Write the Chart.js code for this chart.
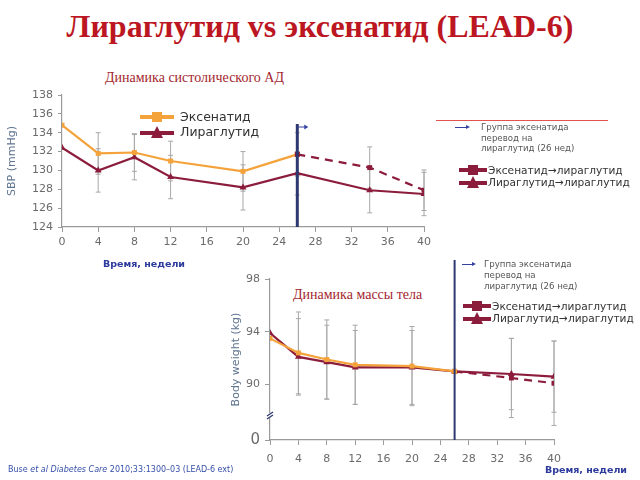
<!DOCTYPE html>
<html><head><meta charset="utf-8">
<script src="https://cdn.jsdelivr.net/npm/chart.js@4.4.1/dist/chart.umd.min.js"></script>
<style>
html,body{margin:0;padding:0;background:#fff;width:640px;height:480px;overflow:hidden;position:relative;font-family:"DejaVu Sans",sans-serif}
.t{position:absolute;white-space:nowrap}
canvas{position:absolute}
.lg{position:absolute;display:flex;align-items:center;white-space:nowrap}
.lg svg{display:block}
</style></head><body>
<div class="t" id="title" style="left:0;width:640px;text-align:center;top:8px;font:bold 32px 'Liberation Serif',serif;color:#BC1622">Лираглутид vs эксенатид (LEAD-6)</div>
<div class="t" style="left:105px;top:70px;font:14px 'Liberation Serif',serif;color:#A3262E">Динамика систолического АД</div>
<div class="t" style="left:293px;top:287px;font:14px 'Liberation Serif',serif;color:#A3262E">Динамика массы тела</div>

<canvas id="c1" width="440" height="185" style="left:0;top:80px"></canvas>
<canvas id="c2" width="380" height="222" style="left:200px;top:250px"></canvas>

<!-- top legend -->
<div class="lg" style="left:138px;top:109px;font-size:12.5px;color:#333">
<svg width="38" height="14"><line x1="2" y1="7" x2="36" y2="7" stroke="#F4A23A" stroke-width="4"/><rect x="14" y="2" width="10" height="10" fill="#F4A23A"/></svg><span style="margin-left:4px">Эксенатид</span></div>
<div class="lg" style="left:138px;top:124px;font-size:12.5px;color:#333">
<svg width="38" height="14"><line x1="2" y1="8" x2="36" y2="8" stroke="#8C1C3C" stroke-width="4"/><polygon points="19,1 25,13 13,13" fill="#8C1C3C"/></svg><span style="margin-left:4px">Лираглутид</span></div>

<!-- top right notes -->
<div class="t" style="left:436px;top:120px;width:172px;height:1px;background:#E2534F"></div>
<div class="t" style="left:455px;top:127px;width:13px;height:1px;background:#3341A0"></div>
<div class="t" style="left:466px;top:125px;width:0;height:0;border-left:4px solid #3341A0;border-top:2.5px solid transparent;border-bottom:2.5px solid transparent"></div>
<div class="t" style="left:481px;top:122px;font-size:8.6px;line-height:10.5px;color:#555">Группа эксенатида<br>перевод на<br>лираглутид (26 нед)</div>
<div class="lg" style="left:458px;top:163px;font-size:10.6px;color:#333">
<svg width="30" height="14"><line x1="1" y1="7" x2="29" y2="7" stroke="#8C1C3C" stroke-width="4"/><rect x="10" y="2" width="10" height="10" fill="#8C1C3C"/></svg><span>Эксенатид→лираглутид</span></div>
<div class="lg" style="left:458px;top:175px;font-size:10.6px;color:#333">
<svg width="30" height="14"><line x1="1" y1="8" x2="29" y2="8" stroke="#8C1C3C" stroke-width="4"/><polygon points="15,1 21,13 9,13" fill="#8C1C3C"/></svg><span>Лираглутид→лираглутид</span></div>

<!-- bottom right notes -->
<div class="t" style="left:462px;top:264px;width:12px;height:1px;background:#3341A0"></div>
<div class="t" style="left:472px;top:262px;width:0;height:0;border-left:4px solid #3341A0;border-top:2.5px solid transparent;border-bottom:2.5px solid transparent"></div>
<div class="t" style="left:484px;top:259px;font-size:8.6px;line-height:11px;color:#555">Группа эксенатида<br>перевод на<br>лираглутид (26 нед)</div>
<div class="lg" style="left:462px;top:299px;font-size:10.6px;color:#333">
<svg width="30" height="14"><line x1="1" y1="7" x2="29" y2="7" stroke="#8C1C3C" stroke-width="4"/><rect x="10" y="2" width="10" height="10" fill="#8C1C3C"/></svg><span>Эксенатид→лираглутид</span></div>
<div class="lg" style="left:462px;top:311px;font-size:10.6px;color:#333">
<svg width="30" height="14"><line x1="1" y1="8" x2="29" y2="8" stroke="#8C1C3C" stroke-width="4"/><polygon points="15,1 21,13 9,13" fill="#8C1C3C"/></svg><span>Лираглутид→лираглутид</span></div>

<div class="t" style="left:103px;top:258px;font:bold 9.5px 'DejaVu Sans',sans-serif;color:#2B3A9C">Время, недели</div>
<div class="t" style="left:545px;top:464px;font:bold 9.5px 'DejaVu Sans',sans-serif;color:#2B3A9C">Время, недели</div>
<div class="t" style="left:8px;top:465px;font-size:8px;color:#3550A8">Buse <i>et al</i> <i>Diabetes Care</i> 2010;33:1300–03 (LEAD-6 ext)</div>

<script>
// ---------- DATA ----------
const weeksMain = [0, 4, 8, 12, 20, 26];
const weeksAll = [0, 4, 8, 12, 20, 26, 34, 40];
const weeksSwitch = [26, 34, 40];
const switchWeek = 26;
const xTicks = [0, 4, 8, 12, 16, 20, 24, 28, 32, 36, 40];

// Systolic BP (mmHg)
const sbpExenatide = [134.8, 131.8, 131.9, 131.0, 129.9, 131.7];
const sbpExenatideErr = [null, 2.2, 2.0, 2.1, 2.1, 2.3];
const sbpLiraglutide = [132.4, 130.0, 131.4, 129.3, 128.2, 129.7, 127.9, 127.5];
const sbpLiraglutideErr = [null, 2.3, 2.4, 2.3, 2.4, 2.3, 2.4, 2.3];
const sbpSwitch = [131.7, 130.3, 127.9];
const sbpSwitchErr = [null, 2.2, 2.15];
const sbpTicks = [124, 126, 128, 130, 132, 134, 136, 138];

// Body weight (kg)
const bwExenatide = [93.5, 92.4, 91.9, 91.5, 91.4, 91.0];
const bwExenatideErr = [null, 3.1, 3.0, 3.0, 3.0, null];
const bwLiraglutide = [93.9, 92.1, 91.7, 91.3, 91.3, 91.0, 90.8, 90.6];
const bwLiraglutideErr = [null, 2.9, 2.8, 2.8, 2.8, null, 2.7, 2.7];
const bwSwitch = [91.0, 90.5, 90.1];
const bwSwitchErr = [null, 3.0, 3.2];
const bwTickValues = [85.8, 90, 94, 98];
const bwTickLabels = ['0', '90', '94', '98'];
const bwBreakValue = 87.7;

// ---------- STYLE ----------
const ORANGE = '#F4A23A', MAROON = '#8C1C3C', NAVY = '#2E3870', GRID = '#9a9a9a', TICK = '#6b6b6b';
const pts = (xs, ys) => xs.map((x, i) => ({x, y: ys[i]}));

const overlay = {
  id: 'overlay',
  beforeDatasetsDraw(chart) {
    const ctx = chart.ctx, xs = chart.scales.x, ys = chart.scales.y;
    ctx.save();
    ctx.strokeStyle = '#a8a8a8'; ctx.lineWidth = 1;
    chart.data.datasets.forEach(ds => {
      if (!ds.err) return;
      ds.data.forEach((p, j) => {
        const e = ds.err[j]; if (e == null) return;
        const x = xs.getPixelForValue(p.x), y1 = ys.getPixelForValue(p.y + e), y2 = ys.getPixelForValue(p.y - e);
        ctx.beginPath();
        ctx.moveTo(x, y1); ctx.lineTo(x, y2);
        ctx.moveTo(x - 2.5, y1); ctx.lineTo(x + 2.5, y1);
        ctx.moveTo(x - 2.5, y2); ctx.lineTo(x + 2.5, y2);
        ctx.stroke();
      });
    });
    ctx.restore();
  },
  afterDatasetsDraw(chart, args, opts) {
    const ctx = chart.ctx, xs = chart.scales.x, ys = chart.scales.y;
    ctx.save();
    const x = xs.getPixelForValue(opts.vx);
    ctx.strokeStyle = NAVY; ctx.lineWidth = opts.vw;
    ctx.beginPath(); ctx.moveTo(x, opts.vtop); ctx.lineTo(x, chart.chartArea.bottom); ctx.stroke();
    if (opts.arrow) {
      ctx.strokeStyle = '#3341A0'; ctx.fillStyle = '#3341A0'; ctx.lineWidth = 1;
      const ay = opts.vtop + 3;
      ctx.beginPath(); ctx.moveTo(x, ay); ctx.lineTo(x + 8, ay); ctx.stroke();
      ctx.beginPath(); ctx.moveTo(x + 11, ay); ctx.lineTo(x + 7, ay - 2.5); ctx.lineTo(x + 7, ay + 2.5); ctx.fill();
    }
    if (opts.breakAt != null) {
      const bx = chart.chartArea.left, by = ys.getPixelForValue(opts.breakAt);
      ctx.fillStyle = '#fff'; ctx.fillRect(bx - 3, by - 2, 6, 4);
      ctx.strokeStyle = NAVY; ctx.lineWidth = 1.3;
      ctx.beginPath();
      ctx.moveTo(bx - 3, by + 1); ctx.lineTo(bx + 3, by - 3);
      ctx.moveTo(bx - 3, by + 4); ctx.lineTo(bx + 3, by);
      ctx.stroke();
    }
    ctx.restore();
  }
};

function lineDs(label, data, err, color, style, dashed, z) {
  return {label, data, err, borderColor: color, backgroundColor: color, borderWidth: 2.2,
    pointStyle: style, pointRadius: style === 'triangle' ? 4 : 3.5, pointBorderWidth: 0,
    borderDash: dashed ? [8, 6] : [], tension: 0, order: z};
}

function xScale(pad) {
  return {type: 'linear', min: 0, max: 40,
    afterBuildTicks: a => { a.ticks = xTicks.map(v => ({value: v})); },
    ticks: {color: TICK, font: {family: 'DejaVu Sans', size: 11}, padding: pad, maxRotation: 0},
    grid: {drawOnChartArea: false, drawTicks: true, tickLength: 5, color: GRID},
    border: {color: GRID, width: 1.2}};
}

Chart.defaults.animation = false;

new Chart(document.getElementById('c1'), {
  type: 'line',
  data: {datasets: [
    lineDs('Эксенатид', pts(weeksMain, sbpExenatide), sbpExenatideErr, ORANGE, 'rect', false, 1),
    lineDs('Лираглутид', pts(weeksAll, sbpLiraglutide), sbpLiraglutideErr, MAROON, 'triangle', false, 2),
    lineDs('Эксенатид→лираглутид', pts(weeksSwitch, sbpSwitch), sbpSwitchErr, MAROON, 'rect', true, 0)
  ]},
  options: {
    responsive: false, animation: false,
    layout: {padding: {left: 6, right: 16, top: 15, bottom: 0}},
    plugins: {legend: {display: false}, tooltip: {enabled: false},
      overlay: {vx: switchWeek, vw: 3, vtop: 44, arrow: true}},
    scales: {
      x: Object.assign(xScale(4), {afterFit: s => { s.height = 38; }}),
      y: {type: 'linear', min: 124, max: 138,
        afterBuildTicks: a => { a.ticks = sbpTicks.map(v => ({value: v})); },
        afterFit: s => { s.width = 56; },
        title: {display: true, text: 'SBP (mmHg)', color: '#5f7590', font: {family: 'DejaVu Sans', size: 11}, padding: {top: 0, bottom: 2}},
        ticks: {color: TICK, font: {family: 'DejaVu Sans', size: 11}, padding: 5},
        grid: {drawOnChartArea: false, drawTicks: true, tickLength: 4, color: GRID},
        border: {color: GRID, width: 1.2}}
    }
  },
  plugins: [overlay]
});

new Chart(document.getElementById('c2'), {
  type: 'line',
  data: {datasets: [
    lineDs('Эксенатид', pts(weeksMain, bwExenatide), bwExenatideErr, ORANGE, 'rect', false, 0),
    lineDs('Лираглутид', pts(weeksAll, bwLiraglutide), bwLiraglutideErr, MAROON, 'triangle', false, 1),
    lineDs('Эксенатид→лираглутид', pts(weeksSwitch, bwSwitch), bwSwitchErr, MAROON, 'rect', true, 2)
  ]},
  options: {
    responsive: false, animation: false,
    layout: {padding: {left: 30, right: 26, top: 29, bottom: 0}},
    plugins: {legend: {display: false}, tooltip: {enabled: false},
      overlay: {vx: switchWeek, vw: 2, vtop: 10, arrow: false, breakAt: bwBreakValue}},
    scales: {
      x: Object.assign(xScale(8), {afterFit: s => { s.height = 32; }}),
      y: {type: 'linear', min: bwTickValues[0], max: 98,
        afterBuildTicks: a => { a.ticks = bwTickValues.map(v => ({value: v})); },
        afterFit: s => { s.width = 40; },
        title: {display: true, text: 'Body weight (kg)', color: '#5f7590', font: {family: 'DejaVu Sans', size: 11}, padding: {top: 0, bottom: 2}},
        ticks: {color: TICK, padding: 5,
          font: c => ({family: 'DejaVu Sans', size: c.index === 0 ? 15 : 11}),
          callback: (v, i) => bwTickLabels[i]},
        grid: {drawOnChartArea: false, drawTicks: true, tickLength: 5, color: GRID},
        border: {color: GRID, width: 1.2}}
    }
  },
  plugins: [overlay]
});
</script>
</body></html>
